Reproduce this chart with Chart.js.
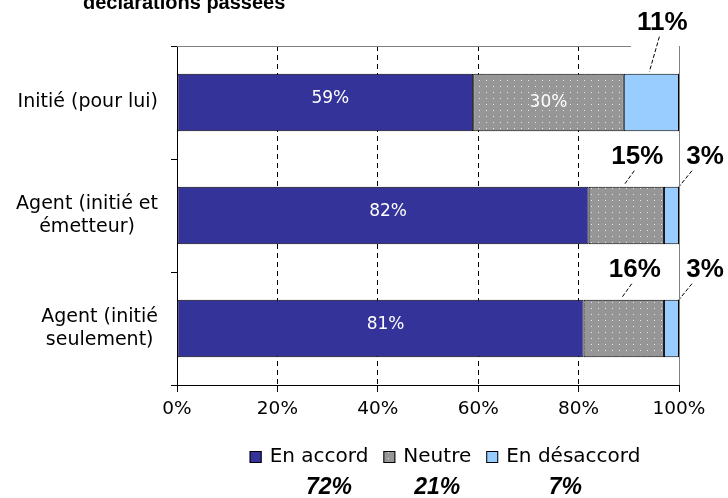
<!DOCTYPE html>
<html>
<head>
<meta charset="utf-8">
<script src="https://cdn.jsdelivr.net/npm/chart.js@4.4.0/dist/chart.umd.min.js"></script>
<style>
html, body { margin: 0; padding: 0; background: #fff; }
#graf { display: block; }
</style>
</head>
<body>
<canvas id="graf" width="728" height="498"></canvas>
<script>
var categories = [['Initié (pour lui)'], ['Agent (initié et', 'émetteur)'], ['Agent (initié', 'seulement)']];
var seriesNames = ['En accord', 'Neutre', 'En désaccord'];
var enAccord = [59, 82, 81];
var neutre = [30, 15, 16];
var enDesaccord = [11, 3, 3];
var totals = ['72%', '21%', '7%'];
var xTicks = [0, 20, 40, 60, 80, 100];
var titleText = 'déclarations passées';

var txtFont = '"DejaVu Sans", Verdana, sans-serif';
var boldFont = '"Liberation Sans", Arial, sans-serif';
// how far above the bar top the outside labels sit, per row
var outsideRaise = [51, 30, 30];

var dotPattern = function() {
    var c = document.createElement('canvas');
    c.width = 7; c.height = 6;
    var g = c.getContext('2d');
    g.fillStyle = '#969696';
    g.fillRect(0, 0, 7, 6);
    g.fillStyle = '#e8e8e8';
    g.fillRect(3, 2, 1, 1);
    return g.createPattern(c, 'repeat');
};
var colors = ['#333399', dotPattern(), '#99ccff'];

// labels, leader lines, frame, legend and title
var decorPlugin = {
    id: 'decor',
    afterDatasetsDraw: function(chart) {
        var ctx = chart.ctx;
        var ca = chart.chartArea;
        var firstLabelLeft = ca.right + 10;
        ctx.save();
        chart.data.datasets.forEach(function(ds, di) {
            var meta = chart.getDatasetMeta(di);
            meta.data.forEach(function(bar, i) {
                var p = bar.getProps(['x', 'y', 'base', 'height'], true);
                var v = ds.data[i];
                var txt = v + '%';
                var left = Math.min(p.x, p.base), right = Math.max(p.x, p.base);
                var cx = (left + right) / 2;
                var top = p.y - p.height / 2;
                if (v > 20) {
                    ctx.fillStyle = '#fff';
                    ctx.font = '17px ' + txtFont;
                    ctx.textAlign = 'center';
                    ctx.textBaseline = 'middle';
                    ctx.fillText(txt, cx + (di === 0 ? 5 : 0), p.y - (di === 0 ? 4 : 0));
                    return;
                }
                var narrow = (right - left) < 25;
                var lx = narrow ? right + 26 : cx + 11;
                var ly = top - outsideRaise[i];
                ctx.fillStyle = '#000';
                ctx.font = 'bold 26px ' + boldFont;
                ctx.textAlign = 'center';
                ctx.textBaseline = 'middle';
                ctx.fillText(txt, lx, ly);
                var w = ctx.measureText(txt).width;
                if (i === 0) firstLabelLeft = Math.min(firstLabelLeft, lx - w / 2 - 6);
                ctx.strokeStyle = '#000';
                ctx.lineWidth = 1;
                ctx.setLineDash([4, 2]);
                ctx.beginPath();
                if (narrow) {
                    ctx.moveTo(lx - 13, ly + 14);
                    ctx.lineTo(right, top);
                } else {
                    ctx.moveTo(lx - 3, ly + 14);
                    ctx.lineTo(cx - 2, top - 2);
                }
                ctx.stroke();
                ctx.setLineDash([]);
            });
        });
        // grey plot frame on top and right
        ctx.strokeStyle = '#808080';
        ctx.lineWidth = 1;
        ctx.beginPath();
        ctx.moveTo(ca.left, ca.top + 0.5);
        ctx.lineTo(Math.min(firstLabelLeft, ca.right), ca.top + 0.5);
        ctx.moveTo(ca.right + 0.5, ca.top);
        ctx.lineTo(ca.right + 0.5, ca.bottom);
        ctx.stroke();
        ctx.restore();
    },
    afterDraw: function(chart) {
        var ctx = chart.ctx;
        var ca = chart.chartArea;
        var yScale = chart.scales.y;
        ctx.save();
        // title (cut at the top edge)
        ctx.fillStyle = '#000';
        ctx.font = 'bold 20px ' + boldFont;
        ctx.textAlign = 'left';
        ctx.textBaseline = 'alphabetic';
        ctx.fillText(titleText, 83, 9);

        // category labels: block right aligned, lines centred
        ctx.font = '19px ' + txtFont;
        ctx.textAlign = 'center';
        ctx.textBaseline = 'middle';
        categories.forEach(function(lines, i) {
            var cy = yScale.getPixelForValue(i);
            var bw = 0;
            lines.forEach(function(l) { bw = Math.max(bw, ctx.measureText(l).width); });
            var mx = 158 - bw / 2;
            var lh = 23;
            lines.forEach(function(l, k) {
                ctx.fillText(l, mx, cy + (k - (lines.length - 1) / 2) * lh);
            });
        });

        // legend
        ctx.font = '20px ' + txtFont;
        var box = 12, gap = 8, sep = 15;
        var widths = seriesNames.map(function(n) { return ctx.measureText(n).width; });
        var total = 0;
        widths.forEach(function(w) { total += box + gap + w; });
        total += sep * (seriesNames.length - 1);
        var x = (ca.left + ca.right) / 2 + 17 - total / 2;
        var ly = 457;
        seriesNames.forEach(function(n, k) {
            ctx.fillStyle = colors[k];
            ctx.fillRect(x, ly - box / 2, box, box);
            ctx.strokeStyle = '#000';
            ctx.lineWidth = 1;
            ctx.strokeRect(x + 0.5, ly - box / 2 + 0.5, box - 1, box - 1);
            ctx.fillStyle = '#000';
            ctx.font = '20px ' + txtFont;
            ctx.textAlign = 'left';
            ctx.textBaseline = 'middle';
            ctx.fillText(n, x + box + gap, ly);
            var mid = x + box + gap + widths[k] / 2;
            ctx.font = 'italic bold 23px ' + boldFont;
            ctx.textAlign = 'center';
            ctx.fillText(totals[k], mid + (k === 0 ? 10 : (k === 2 ? -8 : 0)), 488);
            x += box + gap + widths[k] + sep;
        });
        ctx.restore();
    }
};

var chart = new Chart(document.getElementById('graf'), {
    type: 'bar',
    data: {
        labels: categories,
        datasets: [
            { label: seriesNames[0], data: enAccord, backgroundColor: colors[0] },
            { label: seriesNames[1], data: neutre, backgroundColor: colors[1] },
            { label: seriesNames[2], data: enDesaccord, backgroundColor: colors[2] }
        ]
    },
    options: {
        indexAxis: 'y',
        responsive: false,
        animation: false,
        devicePixelRatio: 1,
        layout: { padding: { top: 46, right: 49, left: 0, bottom: 0 } },
        datasets: {
            bar: {
                borderColor: '#000',
                borderWidth: 1,
                borderSkipped: false,
                barPercentage: 1,
                categoryPercentage: 0.51
            }
        },
        plugins: {
            legend: { display: false },
            tooltip: { enabled: false },
            title: { display: false }
        },
        scales: {
            x: {
                stacked: true,
                min: 0,
                max: 100,
                afterBuildTicks: function(scale) {
                    scale.ticks = xTicks.map(function(v) { return { value: v }; });
                },
                afterFit: function(scale) { scale.height = 113; },
                ticks: {
                    color: '#000',
                    padding: 6,
                    font: { family: txtFont, size: 18.5 },
                    callback: function(v) { return v + '%'; }
                },
                grid: {
                    color: function(c) {
                        if (c.tick && (c.tick.value === 0 || c.tick.value === 100)) return 'rgba(0,0,0,0)';
                        return '#000';
                    },
                    tickColor: '#000',
                    tickLength: 7,
                    lineWidth: 1
                },
                border: { color: '#000', width: 1, dash: [5, 4] }
            },
            y: {
                stacked: true,
                afterFit: function(scale) { scale.width = 177; },
                ticks: { display: false },
                grid: {
                    drawOnChartArea: false,
                    offset: true,
                    tickColor: '#000',
                    tickLength: 6
                },
                border: { color: '#000', width: 1 }
            }
        }
    },
    plugins: [decorPlugin]
});
</script>
</body>
</html>
